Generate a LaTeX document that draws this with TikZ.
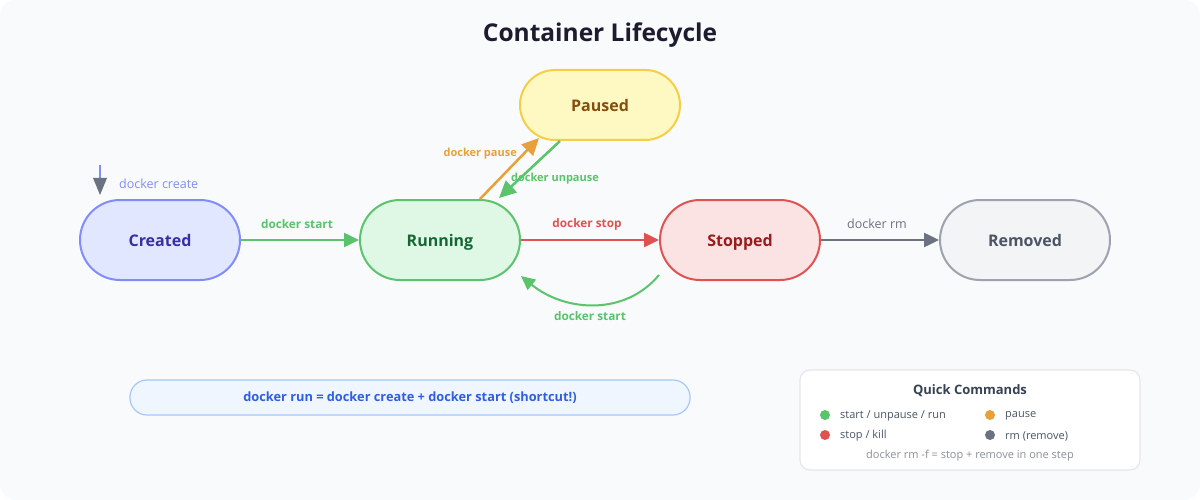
\documentclass[tikz,border=0pt]{standalone}
\usepackage{fontspec}
\setmainfont{Open Sans}
\usetikzlibrary{arrows.meta,calc}
\definecolor{bgc}{HTML}{F8FAFC}
\definecolor{titlec}{HTML}{1E1B2E}
\definecolor{crF}{HTML}{E0E7FF}\definecolor{crD}{HTML}{818CF8}\definecolor{crT}{HTML}{3730A3}
\definecolor{ruF}{HTML}{DFF8E6}\definecolor{ruD}{HTML}{5BC36B}\definecolor{ruT}{HTML}{166534}
\definecolor{paF}{HTML}{FEF9C3}\definecolor{paD}{HTML}{F5CD47}\definecolor{paT}{HTML}{854D0E}
\definecolor{stF}{HTML}{FBE3E3}\definecolor{stD}{HTML}{E05252}\definecolor{stT}{HTML}{991B1B}
\definecolor{reF}{HTML}{F3F4F6}\definecolor{reD}{HTML}{9CA3AF}\definecolor{reT}{HTML}{4B5563}
\definecolor{grayA}{HTML}{6B7280}
\definecolor{orA}{HTML}{E9A03B}
\definecolor{shF}{HTML}{EFF6FF}\definecolor{shD}{HTML}{A5C8F8}\definecolor{shT}{HTML}{2F5FE0}
\definecolor{lgD}{HTML}{E5E7EB}\definecolor{lgT}{HTML}{374151}\definecolor{lgS}{HTML}{4B5563}\definecolor{lgF}{HTML}{8A8F99}
\tikzset{
  state/.style={rectangle, rounded corners=40pt, line width=2pt, minimum width=160pt, minimum height=80pt,
    font=\fontsize{16}{19}\selectfont\bfseries, inner sep=0pt, text height=13pt, text depth=0pt},
  conn/.style={line width=2.5pt, -{Triangle[length=15pt,width=14pt]}},
  lbl/.style={font=\fontsize{11.8}{14}\selectfont\bfseries, inner sep=0pt},
  lbln/.style={font=\fontsize{12.5}{14}\selectfont, inner sep=0pt},
  legtxt/.style={font=\fontsize{11}{13}\selectfont, text=lgS, anchor=west, inner sep=0pt},
  dot/.style={circle, minimum size=10pt, inner sep=0pt},
}
\begin{document}
\begin{tikzpicture}[x=1pt,y=-1pt]
\useasboundingbox (0,0) rectangle (1200,500);
\fill[white] (0,0) rectangle (1200,500);
\fill[bgc, rounded corners=16pt] (0,0) rectangle (1200,500);
\node[font=\fontsize{24.5}{28}\selectfont\bfseries, text=titlec] (title) at (600,35) {Container Lifecycle};

\node[state, fill=crF, draw=crD, text=crT] (created) at (160,240) {Created};
\node[state, fill=ruF, draw=ruD, text=ruT] (running) at (440,240) {Running};
\node[state, fill=paF, draw=paD, text=paT, minimum height=70pt, rounded corners=35pt] (paused) at (600,105) {Paused};
\node[state, fill=stF, draw=stD, text=stT] (stopped) at (740,240) {Stopped};
\node[state, fill=reF, draw=reD, text=reT, minimum width=170pt] (removed) at (1025,240) {Removed};

% docker create
\coordinate (cstart) at (100,165);
\coordinate (cmid) at (100,178);
\draw[line width=2pt, crD] (cstart) -- (cmid);
\fill[grayA] (93,178) -- (107,178) -- (100,195) -- cycle;
\node[lbln, text=crD, anchor=west] (lcreate) at (119,184) {docker create};

% start
\draw[conn, ruD] (created.east) -- (running.west);
\node[lbl, text=ruD] (lstart) at (297,224) {docker start};
% stop
\draw[conn, stD] (running.east) -- (stopped.west);
\node[lbl, text=stD] (lstop) at (587,224) {docker stop};
% rm
\draw[conn, grayA] (stopped.east) -- (removed.west);
\node[lbln, text=grayA] (lrm) at (877,224) {docker rm};
% restart
\draw[line width=2pt, ruD, -{Triangle[length=14pt,width=13pt]}] ($(stopped.west)+(0,35)$) .. controls (625,316) and (565,312) .. ($(running.east)+(0,36)$);
\node[lbl, text=ruD] (lrestart) at (590,316) {docker start};
% pause
\draw[line width=2.5pt, orA, -{Triangle[length=17pt,width=16pt]}] ($(running.north)+(40,0)$) -- ($(paused.south)+(-61,-3)$);
\node[lbl, text=orA, anchor=east, font=\fontsize{11}{13}\selectfont\bfseries] (lpause) at (517,154) {docker pause};
% unpause
\draw[line width=2.5pt, ruD, -{Triangle[length=17pt,width=16pt]}] ($(paused.south)+(-40,0)$) -- ($(running.north)+(59,-1)$);
\node[lbl, text=ruD, anchor=west, font=\fontsize{11}{13}\selectfont\bfseries] (lunpause) at (511,179) {docker unpause};

% shortcut
\node[draw=shD, fill=shF, line width=1.2pt, rounded corners=17pt, minimum width=560pt, minimum height=35pt,
  text=shT, font=\fontsize{12.8}{15}\selectfont\bfseries, inner sep=0pt] (shortcut) at (410,397.5)
  {docker run = docker create + docker start (shortcut!)};

% legend
\node[draw=lgD, fill=white, line width=1.2pt, rounded corners=10pt, minimum width=340pt, minimum height=100pt] (legend) at (970,420) {};
\node[font=\fontsize{13}{15}\selectfont\bfseries, text=lgT, inner sep=0pt] (lgtitle) at (970,391) {Quick Commands};
\node[dot, fill=ruD] (d1) at (825,415) {};
\node[legtxt] (t1) at (840,416) {start / unpause / run};
\node[dot, fill=orA] (d2) at (990,415) {};
\node[legtxt] (t2) at (1005,416) {pause};
\node[dot, fill=stD] (d3) at (825,435) {};
\node[legtxt] (t3) at (840,436) {stop / kill};
\node[dot, fill=grayA] (d4) at (990,435) {};
\node[legtxt] (t4) at (1005,436) {rm (remove)};
\node[font=\fontsize{11}{13}\selectfont, text=lgF, inner sep=0pt] (lgfoot) at (970,456) {docker rm -f = stop + remove in one step};
\end{tikzpicture}
\end{document}
